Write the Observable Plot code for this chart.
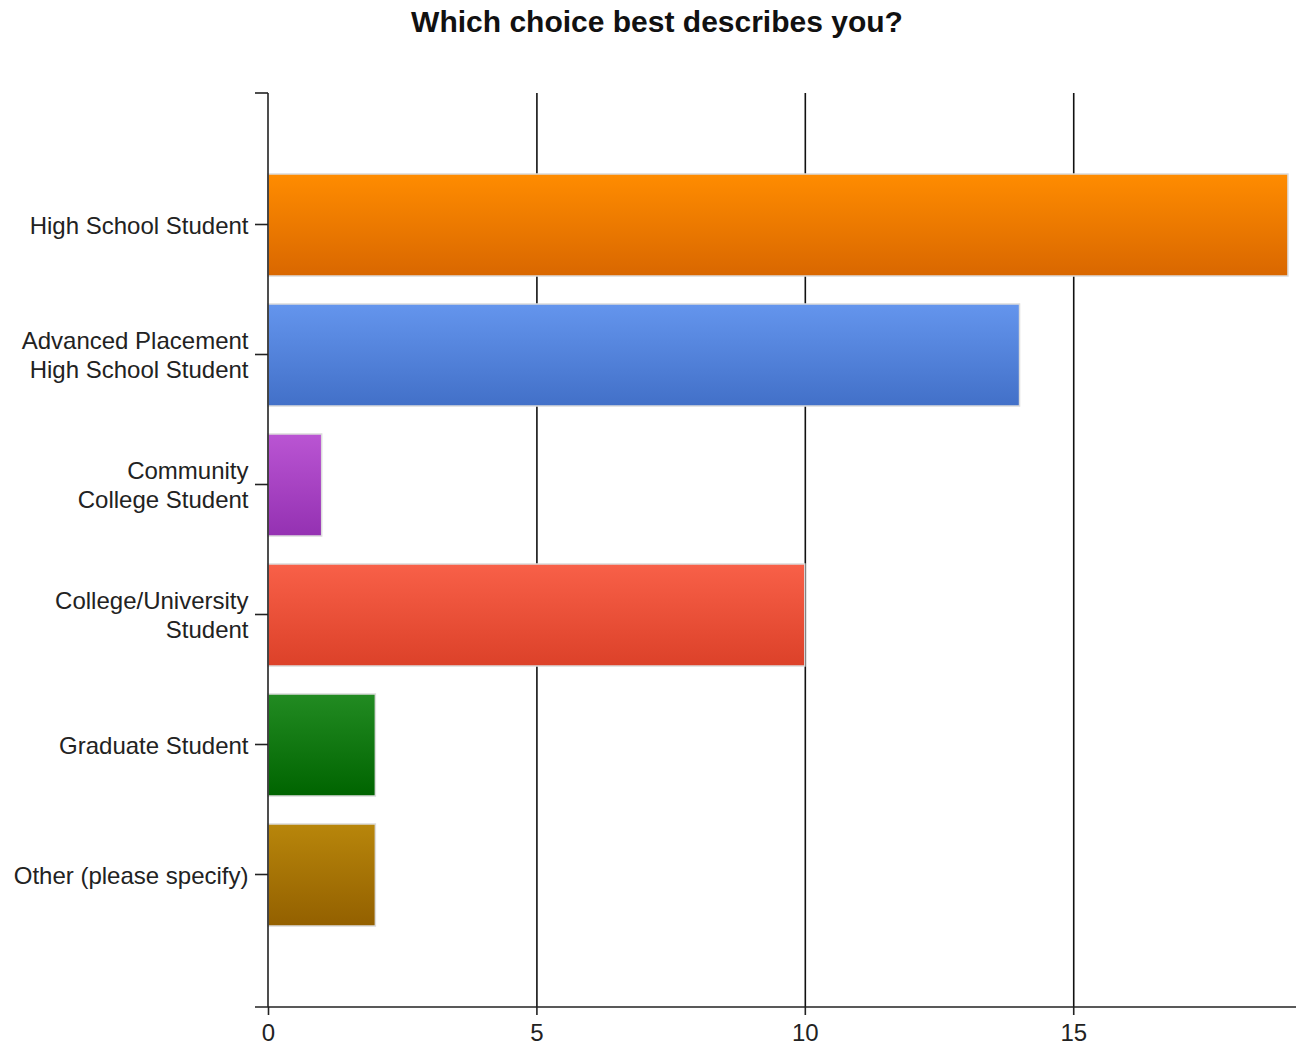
<!DOCTYPE html>
<html>
<head>
<meta charset="utf-8">
<script src="https://cdn.jsdelivr.net/npm/d3@7"></script>
<script src="https://cdn.jsdelivr.net/npm/@observablehq/plot@0.6"></script>
<style>
  body { margin: 0; background: #fff; }
  #title { height: 45px; padding-top: 5px; line-height: 46px; text-align: center; font: bold 30px "Liberation Sans", Arial, sans-serif; color: #111; padding-left: 18px; }
  svg { display: block; }
</style>
</head>
<body>
<div id="title">Which choice best describes you?</div>
<div id="chart"></div>
<script>
const categories = [
  "High School Student",
  "Advanced Placement\nHigh School Student",
  "Community\nCollege Student",
  "College/University\nStudent",
  "Graduate Student",
  "Other (please specify)"
];
const counts = [19, 14, 1, 10, 2, 2];
const topColors = ["#FF8C00", "#6495ED", "#BA55D3", "#F86048", "#228B22", "#B8860B"];
const bottomColors = ["#D96700", "#4270C8", "#9431B2", "#DC4129", "#006400", "#936000"];
const xTicks = [0, 5, 10, 15];

const data = categories.map((c, i) => ({category: c, count: counts[i], fill: `url(#grad${i})`}));

const W = 1296, H = 997;
const mL = 268, mT = 43, mB = 40, mR = 0;

const axisLines = (index, scales, values, dims) => {
  const g = d3.create("svg:g");
  const bottom = dims.height - dims.marginBottom;
  g.append("line").attr("x1", dims.marginLeft - 13).attr("x2", dims.width).attr("y1", bottom).attr("y2", bottom)
    .attr("stroke", "#222").attr("stroke-width", 1.6);
  g.append("line").attr("x1", dims.marginLeft).attr("x2", dims.marginLeft).attr("y1", dims.marginTop).attr("y2", bottom)
    .attr("stroke", "#222").attr("stroke-width", 1.6);
  g.append("line").attr("x1", dims.marginLeft - 13).attr("x2", dims.marginLeft).attr("y1", dims.marginTop).attr("y2", dims.marginTop)
    .attr("stroke", "#222").attr("stroke-width", 1.6);
  return g.node();
};

const plot = Plot.plot({
  width: W, height: H,
  marginLeft: mL, marginTop: mT, marginBottom: mB, marginRight: mR,
  style: {fontFamily: "Liberation Sans, Arial, sans-serif", fontSize: "24px", color: "#222", background: "#fff"},
  x: {domain: [0, 19.15], ticks: xTicks, label: null},
  y: {domain: categories, paddingInner: 0.215, paddingOuter: 0.61, label: null},
  color: {type: "identity"},
  marks: [
    Plot.gridX(xTicks.slice(1), {stroke: "#111", strokeOpacity: 1, strokeWidth: 1.6}),
    Plot.barX(data, {y: "category", x: "count", fill: "fill", stroke: "#dcdcdc", strokeWidth: 1.5}),
    Plot.axisX({ticks: xTicks, tickSize: 8, tickPadding: 8, tickFormat: d => String(d), fontSize: 24, stroke: "#222", strokeWidth: 1.6}),
    Plot.axisY({tickSize: 13, tickPadding: 7, fontSize: 24, lineHeight: 1.17, stroke: "#222", strokeWidth: 1.6, dy: -1}),
    axisLines
  ]
});

const svg = d3.select(plot);
const defs = svg.insert("defs", ":first-child");
topColors.forEach((c, i) => {
  const lg = defs.append("linearGradient").attr("id", `grad${i}`).attr("x1", 0).attr("y1", 0).attr("x2", 0).attr("y2", 1);
  lg.append("stop").attr("offset", "0%").attr("stop-color", c);
  lg.append("stop").attr("offset", "100%").attr("stop-color", bottomColors[i]);
});

document.getElementById("chart").appendChild(plot);
</script>
</body>
</html>
